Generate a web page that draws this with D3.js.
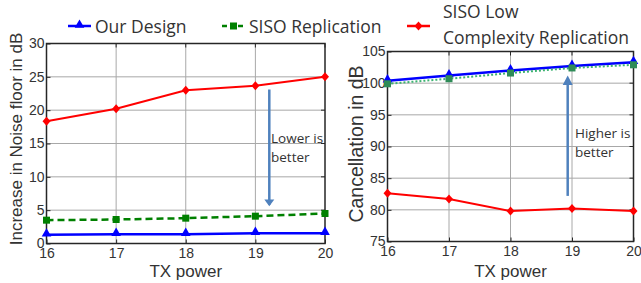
<!DOCTYPE html>
<html>
<head>
<meta charset="utf-8">
<style>
body { margin: 0; background: #fff; }
.tick text { font-family: "Liberation Sans", Arial, sans-serif; font-size: 14px; fill: #333; }
.grid line { stroke: #a8a8a8; stroke-width: 1; }
.lab { font-family: "Liberation Sans", Arial, sans-serif; fill: #333; }
.leg { font-family: "Open Sans", sans-serif; font-size: 17.5px; fill: #333; }
.note { font-family: "Open Sans", sans-serif; font-size: 13.5px; fill: #333; }
</style>
</head>
<body>
<script src="https://d3js.org/d3.v7.min.js"></script>
<script>
// data
var txPower = [16, 17, 18, 19, 20];

// left panel: increase in noise floor (dB)
var noiseOurs = [1.3, 1.4, 1.4, 1.55, 1.55];
var noiseSiso = [3.5, 3.6, 3.8, 4.1, 4.5];
var noiseLow = [18.35, 20.2, 23.0, 23.65, 25.0];
var noiseTicks = [0, 5, 10, 15, 20, 25, 30];

// right panel: cancellation (dB)
var cancOurs = [100.4, 101.2, 102.0, 102.7, 103.3];
var cancSiso = [99.9, 100.7, 101.6, 102.4, 102.9];
var cancLow = [82.6, 81.7, 79.8, 80.2, 79.8];
var cancTicks = [75, 80, 85, 90, 95, 100, 105];

var W = 641, H = 283;
var svg = d3.select("body").append("svg")
    .attr("width", W).attr("height", H);

var blue = "#0000ff", green = "#008000", red = "#ff0000", arrowCol = "#4f81bd";

function marker(g, type, x, y, col) {
    if (type == "tri") {
        g.append("path").attr("d", d3.symbol().type(d3.symbolTriangle).size(40)())
            .attr("transform", "translate(" + x + "," + (y - 1) + ")").attr("fill", col);
    } else if (type == "sq") {
        g.append("rect").attr("x", x - 3.5).attr("y", y - 3.5).attr("width", 7).attr("height", 7)
            .attr("fill", col);
    } else {
        g.append("path").attr("d", "M0,-4.5L4,0L0,4.5L-4,0Z")
            .attr("transform", "translate(" + x + "," + y + ")").attr("fill", col);
    }
}

function panel(box, yDom, yTicks, series, ylabel, ylabelSize) {
    var x = d3.scaleLinear().domain([16, 20]).range([box.x0, box.x1]);
    var y = d3.scaleLinear().domain(yDom).range([box.y1, box.y0]);
    var g = svg.append("g");

    // grid
    g.append("g").attr("class", "grid").selectAll("line").data(txPower.slice(1, -1)).enter()
        .append("line").attr("x1", x).attr("x2", x).attr("y1", box.y0).attr("y2", box.y1);
    g.append("g").attr("class", "grid").selectAll("line").data(yTicks.slice(1, -1)).enter()
        .append("line").attr("y1", y).attr("y2", y).attr("x1", box.x0).attr("x2", box.x1);

    // frame
    g.append("rect").attr("x", box.x0).attr("y", box.y0)
        .attr("width", box.x1 - box.x0).attr("height", box.y1 - box.y0)
        .attr("fill", "none").attr("stroke", "#262626").attr("stroke-width", 1.5);

    // axes
    var xa = g.append("g").attr("transform", "translate(0," + box.y1 + ")")
        .call(d3.axisBottom(x).tickValues(txPower).tickSize(-4).tickPadding(5).tickFormat(d3.format("d")));
    xa.select(".domain").remove();
    xa.selectAll("line").attr("stroke", "#262626");
    var ya = g.append("g").attr("transform", "translate(" + box.x0 + ",0)")
        .call(d3.axisLeft(y).tickValues(yTicks).tickSize(-4).tickPadding(2));
    ya.select(".domain").remove();
    ya.selectAll("line").attr("stroke", "#262626");
    // right side ticks
    g.append("g").selectAll("line").data(yTicks).enter().append("line")
        .attr("x1", box.x1).attr("x2", box.x1 - 4).attr("y1", y).attr("y2", y)
        .attr("stroke", "#262626");
    g.append("g").selectAll("line").data(txPower).enter().append("line")
        .attr("x1", x).attr("x2", x).attr("y1", box.y0).attr("y2", box.y0 + 4)
        .attr("stroke", "#262626");

    // lines
    series.forEach(function(s) {
        var line = d3.line().x(function(d, i) { return x(txPower[i]); }).y(function(d) { return y(d); });
        g.append("path").datum(s.values).attr("d", line).attr("fill", "none")
            .attr("stroke", s.color).attr("stroke-width", s.width)
            .attr("stroke-dasharray", s.dash);
        s.values.forEach(function(v, i) { marker(g, s.mark, x(txPower[i]), y(v), s.markColor || s.color); });
    });

    // labels
    svg.append("text").attr("class", "lab").attr("x", (box.x0 + box.x1) / 2).attr("y", 277)
        .attr("text-anchor", "middle").style("font-size", "17px").text("TX power");
    svg.append("text").attr("class", "lab")
        .attr("transform", "translate(" + box.labX + "," + box.labY + ") rotate(-90)")
        .attr("text-anchor", "middle").style("font-size", ylabelSize).text(ylabel);
    return {x: x, y: y};
}

var left = panel({x0: 46.5, x1: 325, y0: 43.5, y1: 243.5, labX: 22, labY: 139}, [0, 30], noiseTicks, [
    {values: noiseLow, color: red, width: 2, mark: "dia"},
    {values: noiseSiso, color: green, width: 2.5, dash: "7,4", mark: "sq"},
    {values: noiseOurs, color: blue, width: 2.5, mark: "tri"}
], "Increase in Noise floor in dB", "17px");

var right = panel({x0: 387.5, x1: 633.5, y0: 51.5, y1: 241.5, labX: 363, labY: 144}, [75, 105], cancTicks, [
    {values: cancLow, color: red, width: 2, mark: "dia"},
    {values: cancOurs, color: blue, width: 2.5, mark: "tri"},
    {values: cancSiso, color: "#3cb371", width: 2, dash: "2,2", mark: "sq", markColor: "#2e8b57"}
], "Cancellation in dB", "19.5px");

// arrows
svg.append("line").attr("x1", left.x(19.2)).attr("x2", left.x(19.2))
    .attr("y1", left.y(23.1)).attr("y2", left.y(5.8))
    .attr("stroke", arrowCol).attr("stroke-width", 2.5);
svg.append("path").attr("d", d3.line()([[left.x(19.2) - 5, left.y(6.6)], [left.x(19.2) + 5, left.y(6.6)], [left.x(19.2), left.y(5.6)]]) + "Z")
    .attr("fill", arrowCol);
svg.append("text").attr("class", "note").attr("x", 271).attr("y", 143).text("Lower is");
svg.append("text").attr("class", "note").attr("x", 271).attr("y", 162).text("better");

svg.append("line").attr("x1", right.x(18.93)).attr("x2", right.x(18.93))
    .attr("y1", right.y(82.2)).attr("y2", right.y(100.5))
    .attr("stroke", arrowCol).attr("stroke-width", 2.5);
svg.append("path").attr("d", d3.line()([[right.x(18.93) - 5, right.y(99.7)], [right.x(18.93) + 5, right.y(99.7)], [right.x(18.93), right.y(101.2)]]) + "Z")
    .attr("fill", arrowCol);
svg.append("text").attr("class", "note").attr("x", 575).attr("y", 138).text("Higher is");
svg.append("text").attr("class", "note").attr("x", 575).attr("y", 157).text("better");

// legend
var leg = svg.append("g");
var legItems = [
    {x: 68, color: blue, dash: null, mark: "tri", text: ["Our Design"], ty: 33},
    {x: 222, color: green, dash: "5,3", mark: "sq", text: ["SISO Replication"], ty: 33},
    {x: 407, color: red, dash: null, mark: "dia", text: ["SISO Low", "Complexity Replication"], ty: 18}
];
legItems.forEach(function(d) {
    leg.append("line").attr("x1", d.x).attr("x2", d.x + 23).attr("y1", 26).attr("y2", 26)
        .attr("stroke", d.color).attr("stroke-width", 2.5).attr("stroke-dasharray", d.dash);
    marker(leg, d.mark, d.x + 11.5, 26, d.color);
    d.text.forEach(function(t, i) {
        leg.append("text").attr("class", "leg").attr("x", d.x + 27 + (d.mark == "dia" ? 9 : 0))
            .attr("y", d.ty + i * 26).text(t);
    });
});
</script>
</body>
</html>
